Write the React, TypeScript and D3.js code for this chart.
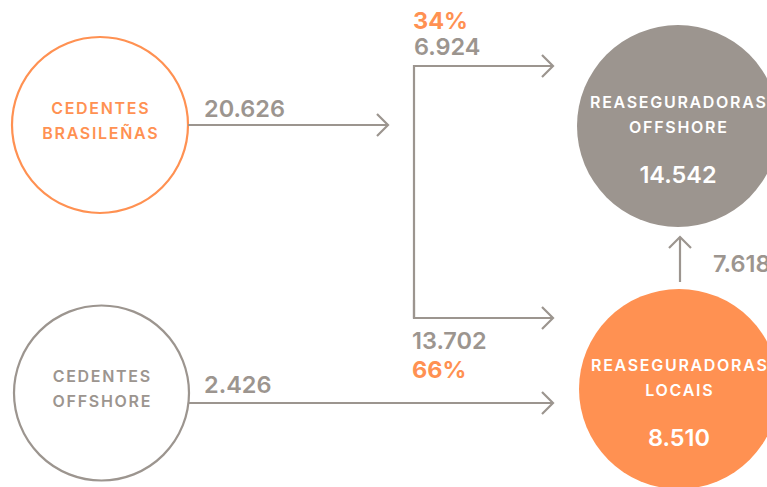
import React from "react";
import * as d3 from "d3";

const ORANGE = "#ff9152";
const GRAY = "#9c958f";

// Nodes
const nodeIds = ["cedBr", "cedOff", "reaOff", "reaLoc"];
const nodeLabels = [
  ["CEDENTES", "BRASILEÑAS"],
  ["CEDENTES", "OFFSHORE"],
  ["REASEGURADORAS", "OFFSHORE"],
  ["REASEGURADORAS", "LOCAIS"],
];
const nodeTotals = [null, null, "14.542", "8.510"];
const nodeColors = [ORANGE, GRAY, GRAY, ORANGE];
const nodeFilled = [false, false, true, true];

// Flow values
const flowLabels = ["20.626", "2.426", "6.924", "13.702", "7.618"];
const shareLabels = ["34%", "66%"];

const W = 767;
const H = 487;

export default function App() {
  const x = d3.scaleLinear().domain([0, 1]).range([0, W]);
  const y = d3.scaleLinear().domain([0, 1]).range([0, H]);

  const centers = [
    { cx: 100, cy: 125, r: 88 },
    { cx: 101.5, cy: 393, r: 87.5 },
    { cx: 678, cy: 126, r: 101 },
    { cx: 679, cy: 389, r: 100 },
  ];

  const line = d3.line<[number, number]>();
  const arrowHead = (tx: number, ty: number, dir: "right" | "up") => {
    const a = 11;
    if (dir === "right")
      return line([[tx - a, ty - a], [tx, ty], [tx - a, ty + a]]);
    return line([[tx - a, ty + a], [tx, ty], [tx + a, ty + a]]);
  };

  const bx = 414;
  const topY = 66;
  const botY = 318;
  const tipX = 553;

  const paths = [
    { d: line([[centers[0].cx + centers[0].r, 125], [388, 125]]), head: arrowHead(388, 125, "right") },
    { d: line([[bx, botY], [bx, topY], [tipX, topY]]), head: arrowHead(tipX, topY, "right") },
    { d: line([[bx, 300], [bx, botY], [tipX, botY]]), head: arrowHead(tipX, botY, "right") },
    { d: line([[centers[1].cx + centers[1].r, 403], [tipX, 403]]), head: arrowHead(tipX, 403, "right") },
    { d: line([[680, 282], [680, 237]]), head: arrowHead(680, 237, "up") },
  ];

  const font = "Inter, 'Liberation Sans', Arial, sans-serif";
  const numStyle = { fontFamily: font, fontWeight: 600, fontSize: 23.5, fill: GRAY };
  const pctStyle = { fontFamily: font, fontWeight: 700, fontSize: 23.5, fill: ORANGE };

  const flowPos = [
    [204, 117],
    [204, 393],
    [414, 55],
    [412, 349],
    [713, 272],
  ];
  const sharePos = [
    [413, 29],
    [412, 378],
  ];

  return (
    <svg width={W} height={H} style={{ position: "absolute", left: 0, top: 0 }}
      viewBox={`${x(0)} ${y(0)} ${W} ${H}`}>
      <rect width={W} height={H} fill="#fff" />
      {nodeIds.map((id, i) => {
        const c = centers[i];
        const filled = nodeFilled[i];
        const textFill = filled ? "#fff" : nodeColors[i];
        const l1 = filled ? c.cy - 18 : c.cy - 11;
        const l2 = l1 + 24.5;
        return (
          <g key={id}>
            <circle cx={c.cx} cy={c.cy} r={c.r}
              fill={filled ? nodeColors[i] : "none"}
              stroke={filled ? "none" : nodeColors[i]} strokeWidth={2.2} />
            {nodeLabels[i].map((t, j) => (
              <text key={j} x={c.cx + 0.8} y={j === 0 ? l1 : l2} textAnchor="middle"
                style={{ fontFamily: font, fontWeight: 600, fontSize: 16, letterSpacing: 1.7, fill: textFill }}>
                {t}
              </text>
            ))}
            {nodeTotals[i] && (
              <text x={c.cx} y={c.cy + 57} textAnchor="middle"
                style={{ fontFamily: font, fontWeight: 600, fontSize: 23.5, fill: "#fff" }}>
                {nodeTotals[i]}
              </text>
            )}
          </g>
        );
      })}
      {paths.map((p, i) => (
        <g key={i} fill="none" stroke={GRAY} strokeWidth={2.2}>
          <path d={p.d || ""} />
          <path d={p.head || ""} />
        </g>
      ))}
      {flowLabels.map((t, i) => (
        <text key={t} x={flowPos[i][0]} y={flowPos[i][1]} style={numStyle}>{t}</text>
      ))}
      {shareLabels.map((t, i) => (
        <text key={t} x={sharePos[i][0]} y={sharePos[i][1]} style={pctStyle}>{t}</text>
      ))}
    </svg>
  );
}
